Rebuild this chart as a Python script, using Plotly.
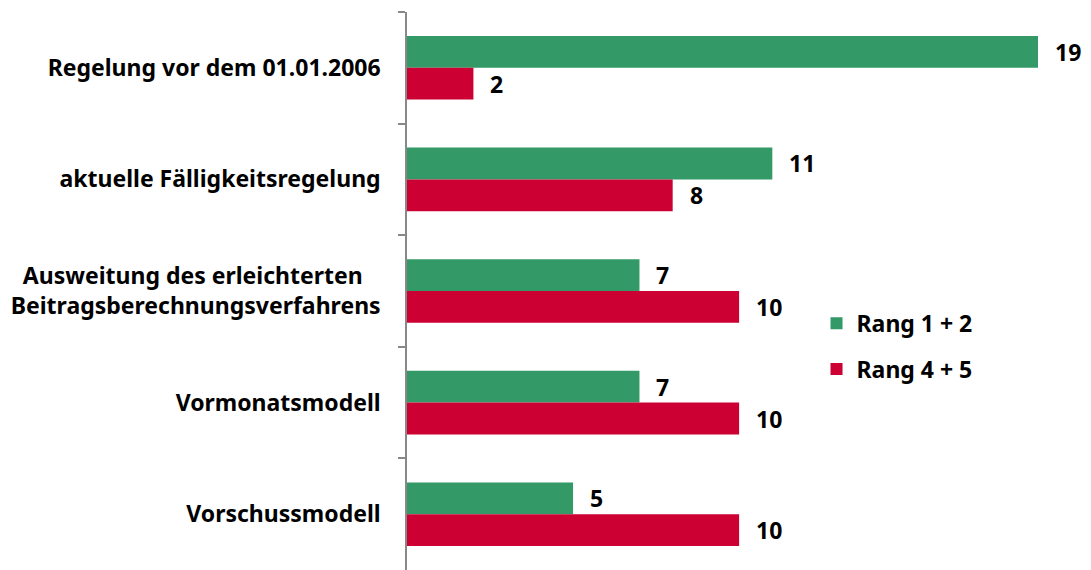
import plotly.graph_objects as go

categories = ["Regelung vor dem 01.01.2006", "aktuelle Fälligkeitsregelung",
              "Ausweitung des erleichterten\u00a0\u00a0\u00a0<br>Beitragsberechnungsverfahrens",
              "Vormonatsmodell", "Vorschussmodell"]
series_names = ["Rang 1 + 2", "Rang 4 + 5"]
rang12 = [19, 11, 7, 7, 5]
rang45 = [2, 8, 10, 10, 10]
colors = ["#339966", "#CC0033"]

FONT = "Noto Sans"
FS = 23
fig = go.Figure()
for name, vals, col, grp in [(series_names[0], rang12, colors[0], "a"),
                             (series_names[1], rang45, colors[1], "b")]:
    fig.add_trace(go.Bar(y=categories, x=vals, name=name, orientation="h",
                         marker=dict(color=col, line=dict(width=0)),
                         legendgroup=grp))

annotations = []
for vals, ys in [(rang12, 16), (rang45, -16)]:
    for c, v in zip(categories, vals):
        annotations.append(dict(x=v, y=c, text=str(v), showarrow=False,
                                xanchor="left", xshift=15, yshift=ys,
                                font=dict(family=FONT, size=FS, color="#000"),
                                xref="x", yref="y"))

fig.update_layout(
    width=1083, height=562,
    margin=dict(l=399, r=53, t=4, b=0, autoexpand=False),
    paper_bgcolor="white", plot_bgcolor="white",
    barmode="group", bargap=0.43, bargroupgap=0,
    font=dict(family=FONT, size=FS, color="#000", weight="bold"),
    showlegend=True,
    legend=dict(x=0.649, y=0.401, xanchor="left", yanchor="middle",
                traceorder="grouped", tracegroupgap=13,
                font=dict(family=FONT, size=FS, color="#000", weight="bold"),
                bgcolor="rgba(0,0,0,0)"),
    annotations=annotations,
    xaxis=dict(range=[0, 19], visible=False, fixedrange=True, automargin=False),
    yaxis=dict(autorange="reversed", type="category", tickson="boundaries",
               ticks="outside", ticklen=7, tickcolor="#888", tickwidth=1.5,
               showline=True, linecolor="#888", linewidth=1.5, automargin=False,
               showgrid=False, ticklabelstandoff=20,
               tickfont=dict(family=FONT, size=FS, color="#000", weight="bold")),
)
fig.write_html("out.html")
